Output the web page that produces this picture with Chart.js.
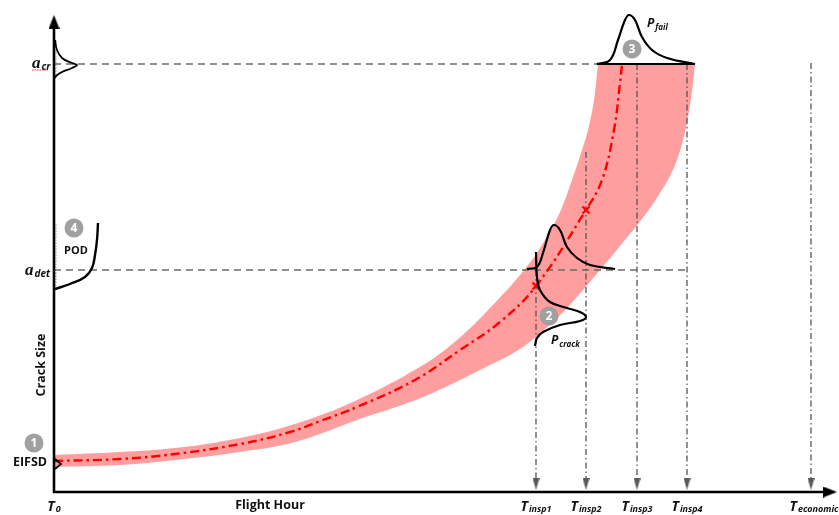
<!DOCTYPE html>
<html><head><meta charset="utf-8">
<script src="https://cdn.jsdelivr.net/npm/chart.js@4.4.1/dist/chart.umd.min.js"></script>
<style>html,body{margin:0;padding:0;background:#fff}#wrap{width:839px;height:515px;position:relative}</style>
</head><body><div id="wrap"><canvas id="c"></canvas></div>
<script>
// ---- data (x = flight hours, y = crack size; arbitrary schematic units) ----
const aCrit = 428;
const aDet = 222;
const eifsd = 31;
const xTickValues = [0, 482, 532, 583, 633, 757];
const xTickMain = ['T', 'T', 'T', 'T', 'T', 'T'];
const xTickSub = ['0', 'insp1', 'insp2', 'insp3', 'insp4', 'economic'];
const inspLineTop = [222, 222, 340, 428, 428, 429];   // top of each time guide (index 1..5 used)

const meanGrowth = [[0,31],[66,33],[121,38],[186,48],[236,60],[269,72],[303,85],[361,112],[406,142],[446,170],[482,206],[532,282],[548,312],[560,362],[566,409],[568,428]];
const upperBound = [[0,37],[66,40],[121,44],[186,54],[244,69],[303,92],[369,127],[403,152],[436,184],[471,223],[491,252],[506,280],[518,312],[528,342],[534,362],[540,392],[544,428],[544.5,428],[641,428]];
const lowerBound = [[0,25],[66,27],[121,32],[186,40],[241,50],[303,72],[369,95],[436,127],[466,143],[491,163],[513,184],[546,222],[571,252],[591,277],[606,299],[616,316],[624,335],[631,360],[636,387],[639,409],[641,428]];
const detectionMarks = [[482,206],[532,282]];

const critDist = [[1,452],[3,442],[8,434],[18,429],[23,427],[18,424],[8,420],[2,416],[1,414]];
const failDist = [[543,428],[556,432],[564,452],[571,472],[575,477],[581,472],[588,455],[598,442],[613,434],[641,428]];
const detDist = [[473,223],[483,225],[489,239],[496,262],[500,267],[506,262],[513,245],[523,234],[536,227],[561,223]];
const crackDist = [[482,240],[483,215],[486,202],[496,190],[513,184],[526,180],[532,175],[526,171],[506,167],[489,160],[483,154],[481,146]];
const podCurve = [[1,203],[16,208],[31,215],[38,224],[41,237],[43,252],[44,269]];

const markerNums = ['1', '2', '3', '4'];
const markerPos = [[-20,49],[495,176],[578,443],[20,264]];

// ---- helpers ----
const pts = a => a.map(p => ({x: p[0], y: p[1]}));
function arrowImg(w, h, color) {
  const c = document.createElement('canvas'); c.width = w; c.height = h;
  const g = c.getContext('2d'); g.fillStyle = color;
  g.beginPath(); g.moveTo(w / 2, 0); g.lineTo(w, h); g.lineTo(0, h); g.closePath(); g.fill();
  return c;
}
const bigArrow = arrowImg(11, 14, '#000');
const smallArrow = arrowImg(7, 12, '#5a5a5a');

const guideData = [];
for (let i = 1; i < xTickValues.length; i++) {
  guideData.push({x: xTickValues[i], y: inspLineTop[i]}, {x: xTickValues[i], y: 6}, {x: xTickValues[i], y: null});
}
const arrowData = xTickValues.slice(1).map(v => ({x: v, y: 8}));

const base = {pointRadius: 0, tension: 0, fill: false, borderWidth: 2, borderColor: '#000'};
const curve = (data, extra) => Object.assign({}, base, {data: pts(data), tension: 0.4, order: 3}, extra || {});

const datasets = [
  Object.assign({}, base, {data: pts(upperBound), tension: 0.4, borderWidth: 0, borderColor: 'rgba(0,0,0,0)', order: 30}),
  Object.assign({}, base, {data: pts(lowerBound), tension: 0.4, borderWidth: 0, borderColor: 'rgba(0,0,0,0)', fill: 0, backgroundColor: '#ff9e9e', order: 29}),
  Object.assign({}, base, {data: [{x: 0, y: aCrit}, {x: failDist[0][0], y: aCrit}], borderColor: '#6b6b6b', borderWidth: 1.3, borderDash: [7, 5], order: 20}),
  Object.assign({}, base, {data: [{x: 0, y: aDet}, {x: xTickValues[4], y: aDet}], borderColor: '#6b6b6b', borderWidth: 1.3, borderDash: [7, 5], order: 20}),
  Object.assign({}, base, {data: guideData, spanGaps: false, borderColor: '#555', borderWidth: 1.3, borderDash: [6, 3, 1.5, 3], order: 19}),
  Object.assign({}, base, {data: pts(meanGrowth), tension: 0.4, borderColor: '#ff0000', borderWidth: 2.4, borderDash: [9, 4, 2.5, 4], order: 10}),
  Object.assign({}, base, {data: pts(detectionMarks), showLine: false, pointRadius: 5, pointStyle: 'crossRot', pointBorderColor: '#ff0000', pointBorderWidth: 2.2, order: 9}),
  curve(critDist, {borderWidth: 1.8}),
  curve(failDist, {borderWidth: 2.2}),
  curve(detDist, {borderWidth: 2.2}),
  curve(crackDist, {borderWidth: 2.2}),
  curve(podCurve, {borderWidth: 2.4}),
  Object.assign({}, base, {data: [{x: failDist[0][0], y: aCrit}, {x: failDist[failDist.length - 1][0], y: aCrit}], borderWidth: 2.2, order: 3}),
  Object.assign({}, base, {data: [{x: 2, y: podCurve[0][1]}, {x: 2, y: podCurve[podCurve.length - 1][1]}, {x: 2, y: null}, {x: 2, y: critDist[critDist.length - 1][1]}, {x: 2, y: critDist[0][1]}], borderColor: '#9a9a9a', borderWidth: 1, borderDash: [1.5, 1.5], order: 4}),
  Object.assign({}, base, {data: [{x: 1, y: eifsd + 2}, {x: 7, y: eifsd - 3}, {x: 1, y: eifsd - 8}], borderWidth: 1.8, order: 2}),
  Object.assign({}, base, {data: [{x: 0, y: 467}, {x: 0, y: 0}, {x: 776, y: 0}], borderWidth: 2.6, order: 1}),
  Object.assign({}, base, {data: [{x: 0, y: 470}, {x: 776, y: 0}], showLine: false, pointRadius: 7, pointStyle: bigArrow, rotation: ctx => ctx.dataIndex === 1 ? 90 : 0, order: 0}),
  Object.assign({}, base, {data: arrowData, showLine: false, pointRadius: 6, pointStyle: smallArrow, rotation: 180, order: 1}),
  Object.assign({}, base, {data: pts(markerPos), showLine: false, pointRadius: 9.5, pointStyle: 'circle', pointBackgroundColor: '#a0a0a0', pointBorderWidth: 0, pointBorderColor: '#a0a0a0', order: 1})
];

function subText(ctx, xp, yp, main, sub, mainFont, subFont, align, drop) {
  ctx.font = mainFont; const w1 = ctx.measureText(main).width;
  ctx.font = subFont; const w2 = ctx.measureText(sub).width;
  const left = align === 'center' ? xp - (w1 + w2 + 1) / 2 : xp;
  ctx.textAlign = 'left'; ctx.textBaseline = 'alphabetic';
  ctx.font = mainFont; ctx.fillText(main, left, yp);
  ctx.font = subFont; ctx.fillText(sub, left + w1 + 1, yp + drop);
  return left;
}

const labelPlugin = {
  id: 'labels',
  afterDatasetsDraw(chart) {
    const {ctx} = chart; const X = chart.scales.x, Y = chart.scales.y;
    const px = v => X.getPixelForValue(v), py = v => Y.getPixelForValue(v);
    ctx.save();
    ctx.fillStyle = '#fff'; ctx.font = 'bold 12px "Open Sans"'; ctx.textAlign = 'center'; ctx.textBaseline = 'middle';
    markerPos.forEach((p, i) => ctx.fillText(markerNums[i], px(p[0]), py(p[1]) + 0.5));
    ctx.fillStyle = '#111';
    xTickValues.forEach((v, i) => {
      const shift = i === xTickValues.length - 1 ? 3 : 0;
      subText(ctx, px(v) + shift, py(-19), xTickMain[i], xTickSub[i], 'italic bold 14px "Open Sans"', 'italic bold 9px "Open Sans"', 'center', 1);
    });
    subText(ctx, px(-22), py(aCrit - 4), 'a', 'cr', 'italic bold 17px "Liberation Serif"', 'italic bold 10px "Open Sans"', 'left', 2);
    subText(ctx, px(-29), py(aDet - 5), 'a', 'det', 'italic bold 17px "Liberation Serif"', 'italic bold 10px "Open Sans"', 'left', 2);
    subText(ctx, px(593), py(465), 'P', 'fail', 'italic bold 12px "Open Sans"', 'italic bold 8px "Open Sans"', 'left', 3);
    subText(ctx, px(497), py(148), 'P', 'crack', 'italic bold 12px "Open Sans"', 'italic bold 8px "Open Sans"', 'left', 3);
    ctx.font = 'bold 11px "Open Sans"'; ctx.textAlign = 'center'; ctx.textBaseline = 'middle';
    ctx.fillText('POD', px(22), py(241));
    ctx.font = 'bold 12.5px "Open Sans"';
    ctx.fillText('EIFSD', px(-24), py(eifsd - 1));
    ctx.fillText('Flight Hour', px(216), py(-13));
    ctx.save(); ctx.translate(px(-13), py(127)); ctx.rotate(-Math.PI / 2); ctx.fillText('Crack Size', 0, 0); ctx.restore();
    ctx.strokeStyle = '#e03030'; ctx.lineWidth = 1; ctx.setLineDash([1.5, 1]);
    ctx.beginPath(); ctx.moveTo(px(-22), py(aCrit - 6)); ctx.lineTo(px(-6), py(aCrit - 6)); ctx.stroke();
    ctx.restore();
  }
};

new Chart(document.getElementById('c'), {
  type: 'line',
  data: {datasets},
  options: {
    responsive: true, maintainAspectRatio: false, animation: false,
    layout: {padding: 0, autoPadding: false},
    plugins: {legend: {display: false}, tooltip: {enabled: false}, filler: {propagate: false}},
    scales: {
      x: {type: 'linear', min: -54, max: 785, display: false},
      y: {type: 'linear', min: -23, max: 492, display: false}
    }
  },
  plugins: [labelPlugin]
});
</script></body></html>
